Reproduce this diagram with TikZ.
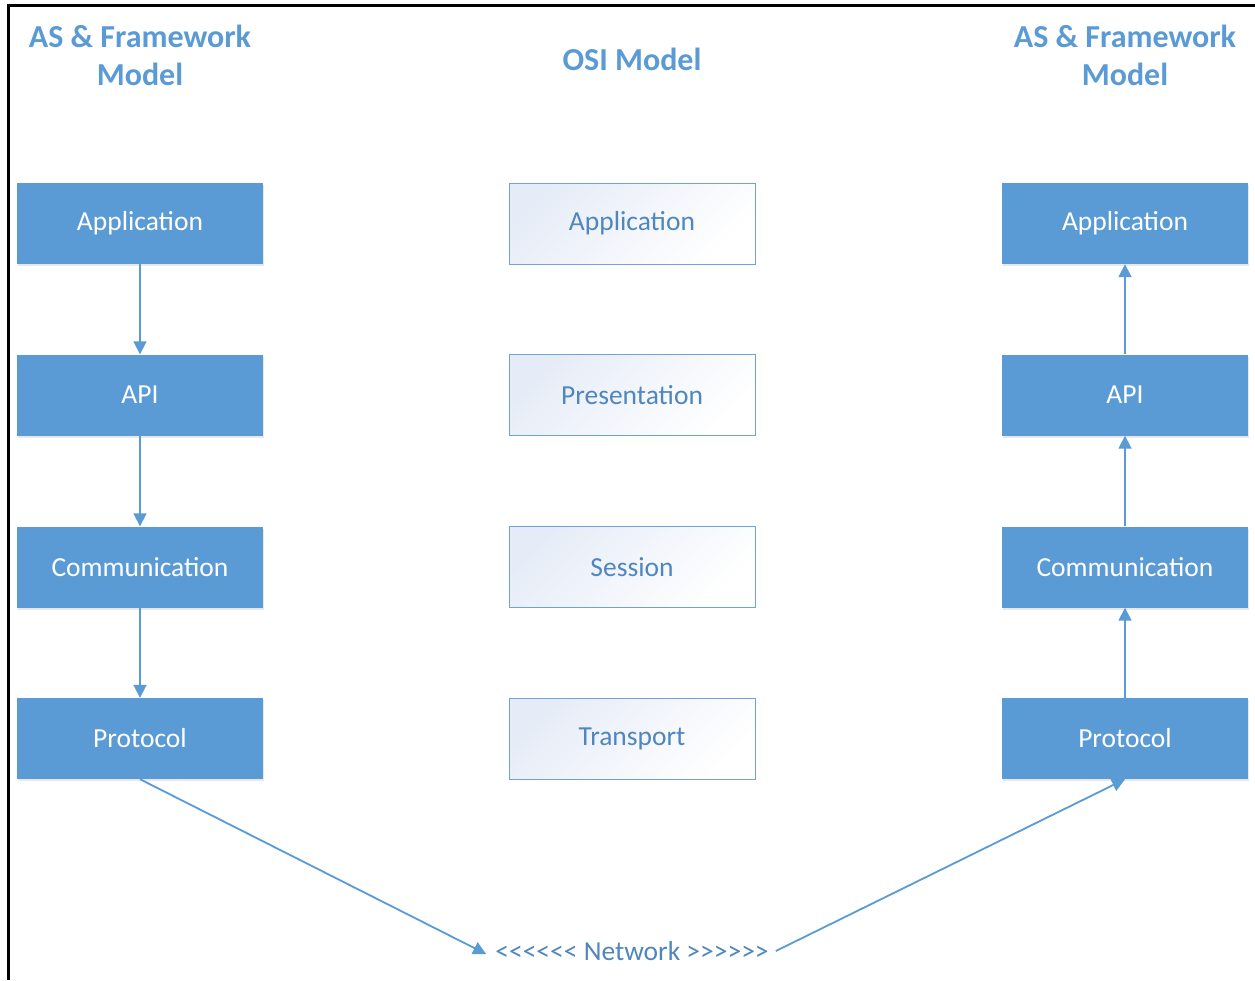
\documentclass[tikz,border=0pt]{standalone}
\usepackage{fontspec}
\setmainfont{Carlito}
\usetikzlibrary{arrows.meta,shadows}
\definecolor{accent}{HTML}{5B9BD5}
\definecolor{osiedge}{HTML}{6FA3D8}
\definecolor{ositext}{HTML}{4F86C0}
\definecolor{osifill}{HTML}{E6ECF7}
\begin{document}
\begin{tikzpicture}[x=1pt,y=-1pt,
  layer/.style={rectangle, minimum width=246pt, minimum height=81pt, inner sep=0pt,
    font=\fontsize{27.5}{32}\selectfont},
  fwbox/.style={layer, fill=accent, text=white,
    drop shadow={shadow xshift=1pt, shadow yshift=-2pt, opacity=0.18, fill=gray}},
  osibox/.style={layer, draw=osiedge, line width=1pt, text=ositext,
    left color=osifill, right color=white, shading angle=45},
  title/.style={text=accent, font=\bfseries\fontsize{32}{38}\selectfont, align=center},
  conn/.style={accent, line width=1.8pt, -{Triangle[length=13pt,width=13pt]}}
]
\useasboundingbox (0,0) rectangle (1255,980);
\fill[white] (0,0) rectangle (1255,980);
\draw[line width=3pt] (8,980) -- (8,5) -- (1255,5);

\node[title] (tl) at (140,55) {AS \& Framework\\Model};
\node[title] (tm) at (632,59) {OSI Model};
\node[title] (tr) at (1125,55) {AS \& Framework\\Model};

\node[fwbox] (la) at (140,223.5) {Application};
\node[fwbox] (lb) at (140,395) {API};
\node[fwbox] (lc) at (140,567) {Communication};
\node[fwbox] (ld) at (140,738.5) {Protocol};

\node[osibox] (ma) at (632,223.5) {Application};
\node[osibox] (mb) at (632,395) {Presentation};
\node[osibox] (mc) at (632,567) {Session};
\node[osibox] (md) at (632,738.5) {Transport};

\node[fwbox] (ra) at (1125,223.5) {Application};
\node[fwbox] (rb) at (1125,395) {API};
\node[fwbox] (rc) at (1125,567) {Communication};
\node[fwbox] (rd) at (1125,738.5) {Protocol};

\node[text=ositext, font=\fontsize{27.5}{32}\selectfont, inner sep=0pt] (net) at (632,951)
  {{<}{<}{<}{<}{<}{<} Network {>}{>}{>}{>}{>}{>}};

\draw[conn] (la) -- (lb);
\draw[conn] (lb) -- (lc);
\draw[conn] (lc) -- (ld);
\draw[conn] (rb) -- (ra);
\draw[conn] (rc) -- (rb);
\draw[conn] (rd) -- (rc);
\draw[conn] (ld.south) -- ([xshift=-9pt,yshift=-3pt]net.west);
\draw[conn] ([xshift=7pt]net.east) -- (rd.south);
\end{tikzpicture}
\end{document}
